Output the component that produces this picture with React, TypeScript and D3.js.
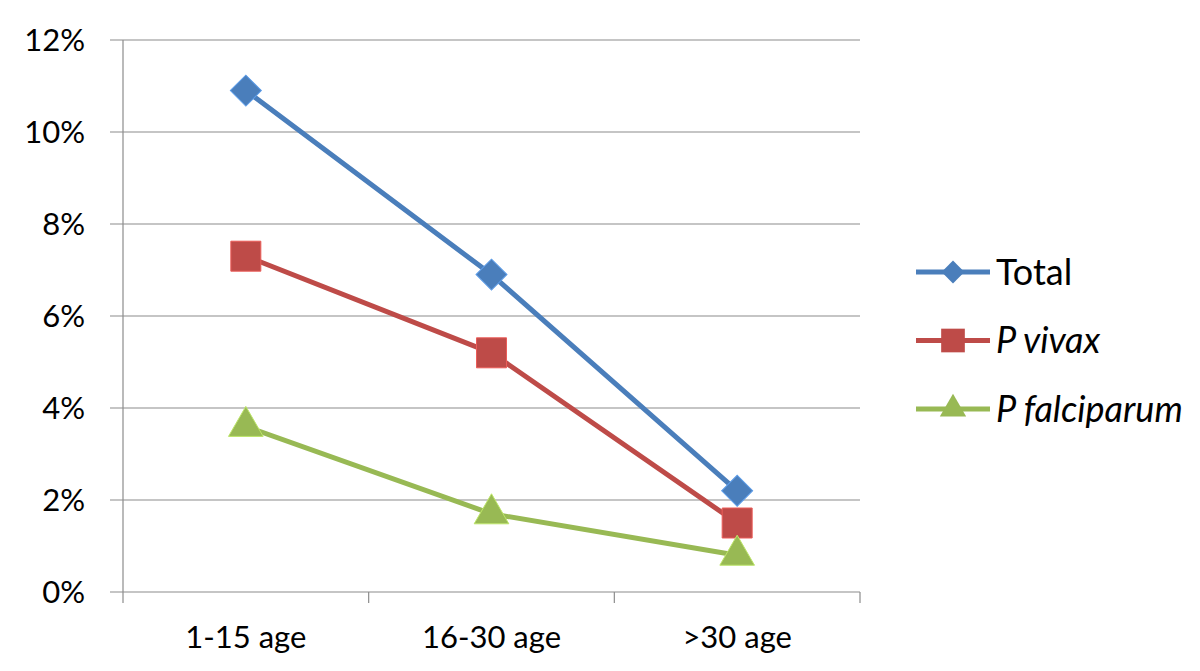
import React, { useEffect, useRef } from 'react';
import * as d3 from 'd3';

// age groups on the x axis
const categories = ['1-15 age', '16-30 age', '>30 age'];
// prevalence (%)
const totalValues = [10.9, 6.9, 2.2];
const vivaxValues = [7.3, 5.2, 1.5];
const falciparumValues = [3.6, 1.7, 0.8];
const yTicks = [0, 2, 4, 6, 8, 10, 12];

const seriesNames = ['Total', 'P vivax', 'P falciparum'];
const seriesValues = [totalValues, vivaxValues, falciparumValues];
const seriesColors = ['#4A7EBB', '#BE4B48', '#98B954'];
const seriesSymbols = [d3.symbolSquare, d3.symbolSquare, d3.symbolTriangle];
const symbolRotate = [45, 0, 0];
const symbolSizes = [480, 900, 520];
const legendSymbolSizes = [260, 560, 300];

const App = () => {
  const svgRef = useRef<SVGSVGElement>(null);

  useEffect(() => {
    const width = 1200;
    const height = 671;
    const margin = { top: 40, right: 340, bottom: 79, left: 123 };
    const innerW = width - margin.left - margin.right;
    const innerH = height - margin.top - margin.bottom;
    const font = 'Lato, "Open Sans", sans-serif';

    const root = d3.select(svgRef.current);
    root.selectAll('*').remove();
    root.attr('width', width).attr('height', height);

    const svg = root
      .append('g')
      .attr('transform', `translate(${margin.left},${margin.top})`);

    const x = d3.scaleBand().domain(categories).range([0, innerW]);
    const y = d3.scaleLinear().domain([0, 12]).range([innerH, 0]);

    // horizontal gridlines, extending left as tick marks
    svg
      .selectAll('.grid')
      .data(yTicks)
      .join('line')
      .attr('x1', -13)
      .attr('x2', innerW)
      .attr('y1', (d) => y(d))
      .attr('y2', (d) => y(d))
      .attr('stroke', '#8c8c8c')
      .attr('stroke-width', 1.2);

    // y tick labels
    svg
      .selectAll('.ylab')
      .data(yTicks)
      .join('text')
      .attr('x', -38)
      .attr('y', (d) => y(d))
      .attr('dy', '0.35em')
      .attr('text-anchor', 'end')
      .attr('font-family', font)
      .attr('font-size', 31)
      .attr('fill', '#000')
      .text((d) => `${d}%`);

    // y axis line
    svg
      .append('line')
      .attr('x1', 0)
      .attr('x2', 0)
      .attr('y1', 0)
      .attr('y2', innerH + 11)
      .attr('stroke', '#8c8c8c')
      .attr('stroke-width', 1.2);

    // x category boundary ticks
    const boundaries = categories.map((c) => (x(c) as number) + x.bandwidth());
    svg
      .selectAll('.xtick')
      .data(boundaries)
      .join('line')
      .attr('x1', (d) => d)
      .attr('x2', (d) => d)
      .attr('y1', innerH)
      .attr('y2', innerH + 11)
      .attr('stroke', '#8c8c8c')
      .attr('stroke-width', 1.2);

    // x labels
    svg
      .selectAll('.xlab')
      .data(categories)
      .join('text')
      .attr('x', (d) => (x(d) as number) + x.bandwidth() / 2)
      .attr('y', innerH + 56)
      .attr('text-anchor', 'middle')
      .attr('font-family', font)
      .attr('font-size', 31)
      .attr('fill', '#000')
      .text((d) => d);

    const cx = (i: number) => (x(categories[i]) as number) + x.bandwidth() / 2;
    const line = d3
      .line<number>()
      .x((_, i) => cx(i))
      .y((d) => y(d));

    seriesValues.forEach((vals, s) => {
      svg
        .append('path')
        .datum(vals)
        .attr('fill', 'none')
        .attr('stroke', seriesColors[s])
        .attr('stroke-width', 5)
        .attr('stroke-linejoin', 'round')
        .attr('d', line);

      svg
        .selectAll(`.m${s}`)
        .data(vals)
        .join('path')
        .attr(
          'transform',
          (d, i) => `translate(${cx(i)},${y(d)}) rotate(${symbolRotate[s]})`
        )
        .attr('d', d3.symbol().type(seriesSymbols[s]).size(symbolSizes[s])())
        .attr('fill', seriesColors[s])
        .attr('stroke', d3.color(seriesColors[s])!.brighter(0.6).toString())
        .attr('stroke-width', 1);
    });

    // legend
    const legend = root.append('g').attr('transform', 'translate(916,272)');
    seriesNames.forEach((name, s) => {
      const g = legend.append('g').attr('transform', `translate(0,${s * 68.5})`);
      g.append('line')
        .attr('x1', 0)
        .attr('x2', 74)
        .attr('y1', 0)
        .attr('y2', 0)
        .attr('stroke', seriesColors[s])
        .attr('stroke-width', 5);
      g.append('path')
        .attr('transform', `translate(37,0) rotate(${symbolRotate[s]})`)
        .attr('d', d3.symbol().type(seriesSymbols[s]).size(legendSymbolSizes[s])())
        .attr('fill', seriesColors[s]);
      g.append('text')
        .attr('x', 80)
        .attr('y', 0)
        .attr('dy', '0.35em')
        .attr('font-family', font)
        .attr('font-size', 36)
        .attr('font-style', s === 0 ? 'normal' : 'italic')
        .attr('fill', '#000')
        .text(name);
    });
  }, []);

  return (
    <svg
      ref={svgRef}
      style={{ position: 'absolute', left: 0, top: 0, background: '#fff' }}
    ></svg>
  );
};

export default App;
